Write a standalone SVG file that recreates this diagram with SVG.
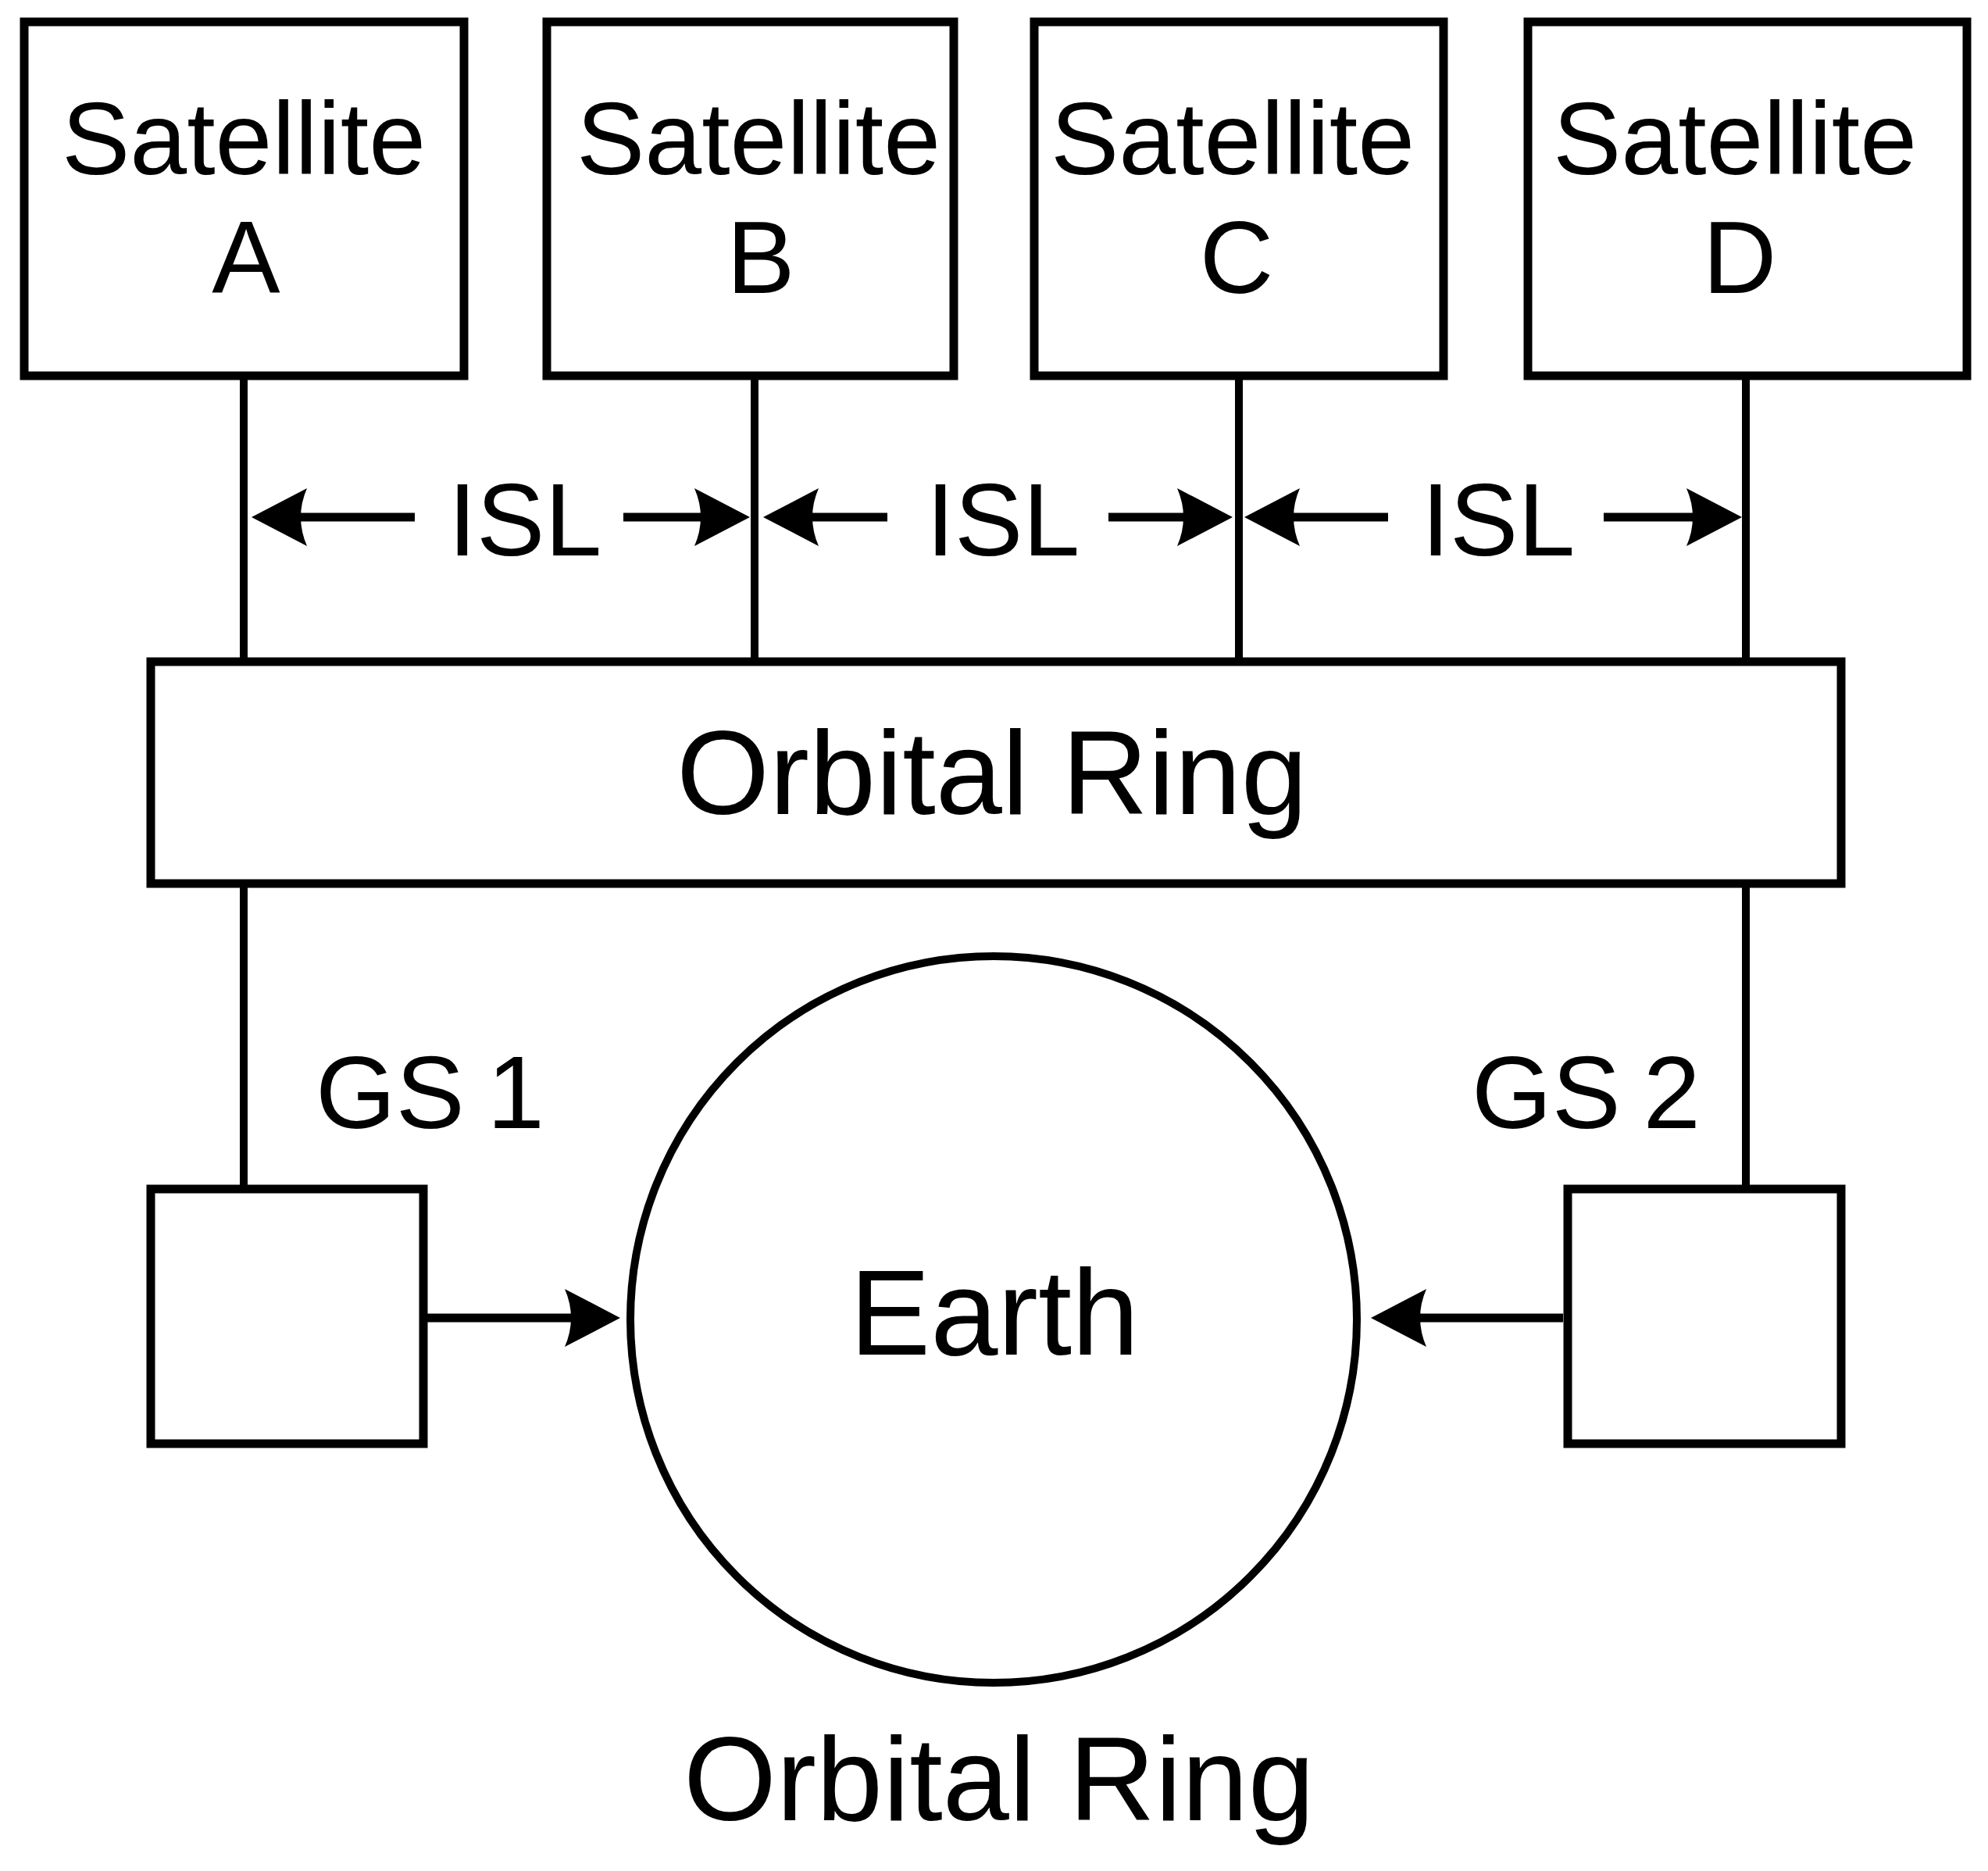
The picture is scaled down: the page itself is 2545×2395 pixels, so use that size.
<svg xmlns="http://www.w3.org/2000/svg" width="2545" height="2395" viewBox="0 0 2545 2395">
<style>
.box{fill:#fff;stroke:#000;stroke-width:11}
.ln{stroke:#000;stroke-width:10;fill:none}
.arr{stroke:#000;stroke-width:11;fill:none;marker-end:url(#ah)}
text{font-family:"Liberation Sans",Arial,Helvetica,sans-serif;fill:#000;text-anchor:middle}
.sat{font-size:131px}
.isl{font-size:131px}
.gs{font-size:132px;text-anchor:start;word-spacing:-8px}
.big{font-size:153px}
</style>
<defs>
<marker id="ah" markerUnits="userSpaceOnUse" viewBox="0 -38 72 76" refX="8" refY="0" markerWidth="72" markerHeight="76" orient="auto">
<path d="M0,-37 L71,0 L0,37 Q16,0 0,-37 Z" fill="#000"/>
</marker>
</defs>
<rect width="2545" height="2395" fill="#fff"/>
<g id="connectors">
<line class="ln" x1="312" y1="481" x2="312" y2="847"/>
<line class="ln" x1="966" y1="481" x2="966" y2="847"/>
<line class="ln" x1="1586" y1="481" x2="1586" y2="847"/>
<line class="ln" x1="2235" y1="481" x2="2235" y2="847"/>
<line class="ln" x1="312" y1="1131" x2="312" y2="1522"/>
<line class="ln" x1="2235" y1="1131" x2="2235" y2="1522"/>
<line class="arr" x1="531" y1="662" x2="385" y2="662"/>
<line class="arr" x1="798" y1="662" x2="897" y2="662"/>
<line class="arr" x1="1136" y1="662" x2="1040" y2="662"/>
<line class="arr" x1="1419" y1="662" x2="1515" y2="662"/>
<line class="arr" x1="1777" y1="662" x2="1656" y2="662"/>
<line class="arr" x1="2053" y1="662" x2="2167" y2="662"/>
<line class="arr" x1="547" y1="1687" x2="731" y2="1687"/>
<line class="arr" x1="2001" y1="1687" x2="1818" y2="1687"/>
<text class="isl" x="672" y="711">ISL</text>
<text class="isl" x="1284" y="711">ISL</text>
<text class="isl" x="1918" y="711">ISL</text>
</g>
<g id="satA">
<rect class="box" x="31" y="28" width="563" height="453"/>
<text class="sat" x="312" y="223">Satellite</text>
<text class="sat" x="315" y="375">A</text>
</g>
<g id="satB">
<rect class="box" x="700" y="28" width="521" height="453"/>
<text class="sat" x="971" y="223">Satellite</text>
<text class="sat" x="974" y="375">B</text>
</g>
<g id="satC">
<rect class="box" x="1324" y="28" width="524" height="453"/>
<text class="sat" x="1578" y="223">Satellite</text>
<text class="sat" x="1583" y="375">C</text>
</g>
<g id="satD">
<rect class="box" x="1956" y="28" width="562" height="453"/>
<text class="sat" x="2221" y="223">Satellite</text>
<text class="sat" x="2227" y="375">D</text>
</g>
<g id="ring">
<rect class="box" x="193" y="847" width="2164" height="284"/>
<text class="big" x="1270" y="1042">Orbital Ring</text>
</g>
<g id="gs1">
<rect class="box" x="193" y="1522" width="349" height="326"/>
<text class="gs" x="404" y="1444">GS 1</text>
</g>
<g id="gs2">
<rect class="box" x="2007" y="1522" width="350" height="326"/>
<text class="gs" x="1884" y="1444">GS 2</text>
</g>
<g id="earth">
<circle cx="1272" cy="1689" r="465" fill="#fff" stroke="#000" stroke-width="10"/>
<text class="big" x="1273" y="1734" style="font-size:155px">Earth</text>
</g>
<g id="caption">
<text class="big" x="1279" y="2330">Orbital Ring</text>
</g>
</svg>
